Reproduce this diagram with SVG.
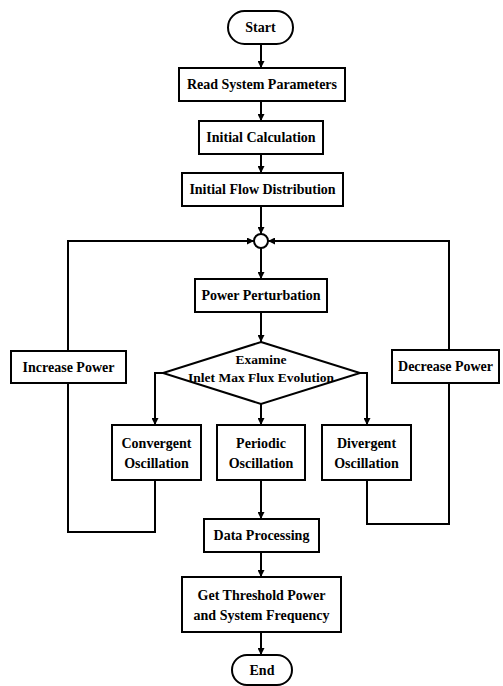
<svg xmlns="http://www.w3.org/2000/svg" width="503" height="686" viewBox="0 0 503 686">
<style>
.box{fill:#fff;stroke:#000;stroke-width:2}
.ln{fill:none;stroke:#000;stroke-width:2}
text{font-family:"Liberation Serif","Times New Roman",serif;font-size:14px;font-weight:bold;text-anchor:middle;fill:#000}
text.lt{font-size:13.5px}
</style>
<defs>
<marker id="ah" viewBox="0 0 10 10" refX="10" refY="5" markerWidth="3.5" markerHeight="3.5" orient="auto" markerUnits="strokeWidth">
<path d="M0,0 L10,5 L0,10 z" fill="#000"/>
</marker>
</defs>
<g id="connectors">
<line class="ln" x1="261" y1="44" x2="261" y2="68" marker-end="url(#ah)"/>
<line class="ln" x1="261" y1="101" x2="261" y2="121" marker-end="url(#ah)"/>
<line class="ln" x1="261" y1="154" x2="261" y2="173" marker-end="url(#ah)"/>
<line class="ln" x1="261" y1="206" x2="261" y2="234" marker-end="url(#ah)"/>
<line class="ln" x1="261" y1="248" x2="261" y2="279" marker-end="url(#ah)"/>
<line class="ln" x1="261" y1="312" x2="261" y2="342" marker-end="url(#ah)"/>
<polyline class="ln" points="163,373 155,373 155,425" marker-end="url(#ah)"/>
<line class="ln" x1="261" y1="404" x2="261" y2="425" marker-end="url(#ah)"/>
<polyline class="ln" points="360,373 367,373 367,425" marker-end="url(#ah)"/>
<polyline class="ln" points="155,480 155,532 68,532 68,383"/>
<polyline class="ln" points="68,351 68,241 254,241" marker-end="url(#ah)"/>
<polyline class="ln" points="367,480 367,524 449,524 449,383"/>
<polyline class="ln" points="449,350 449,241 268,241" marker-end="url(#ah)"/>
<line class="ln" x1="261" y1="480" x2="261" y2="519" marker-end="url(#ah)"/>
<line class="ln" x1="261" y1="552" x2="261" y2="577" marker-end="url(#ah)"/>
<line class="ln" x1="261" y1="632" x2="261" y2="655" marker-end="url(#ah)"/>
</g>
<g id="start"><rect class="box" x="228" y="11" width="65" height="33" rx="16.5"/><text x="260.5" y="32">Start</text></g>
<g id="read"><rect class="box" x="179" y="68" width="166" height="33"/><text x="262" y="89">Read System Parameters</text></g>
<g id="initcalc"><rect class="box" x="199" y="121" width="124" height="33"/><text x="261" y="142">Initial Calculation</text></g>
<g id="flow"><rect class="box" x="182" y="173" width="161" height="33"/><text x="262.5" y="194">Initial Flow Distribution</text></g>
<g id="junction"><circle class="box" cx="261" cy="241" r="7"/></g>
<g id="perturb"><rect class="box" x="195" y="279" width="132" height="33"/><text x="261" y="300">Power Perturbation</text></g>
<g id="examine"><polygon class="box" points="261,342 360,373 261,404 163,373"/><text class="lt" x="261" y="364">Examine</text><text class="lt" x="261" y="382">Inlet Max Flux Evolution</text></g>
<g id="increase"><rect class="box" x="11" y="351" width="115" height="32"/><text x="68.5" y="372">Increase Power</text></g>
<g id="decrease"><rect class="box" x="392" y="350" width="107" height="33"/><text x="445.5" y="371">Decrease Power</text></g>
<g id="convergent"><rect class="box" x="112" y="425" width="89" height="55"/><text x="156.5" y="448">Convergent</text><text x="156.5" y="468">Oscillation</text></g>
<g id="periodic"><rect class="box" x="217" y="425" width="88" height="55"/><text x="261" y="448">Periodic</text><text x="261" y="468">Oscillation</text></g>
<g id="divergent"><rect class="box" x="322" y="425" width="89" height="55"/><text x="366.5" y="448">Divergent</text><text x="366.5" y="468">Oscillation</text></g>
<g id="data"><rect class="box" x="204" y="519" width="115" height="33"/><text x="261.5" y="540">Data Processing</text></g>
<g id="threshold"><rect class="box" x="182" y="577" width="159" height="55"/><text x="261.5" y="600">Get Threshold Power</text><text x="261.5" y="620">and System Frequency</text></g>
<g id="end"><rect class="box" x="232" y="655" width="60" height="30" rx="15"/><text x="262" y="675">End</text></g>
</svg>
